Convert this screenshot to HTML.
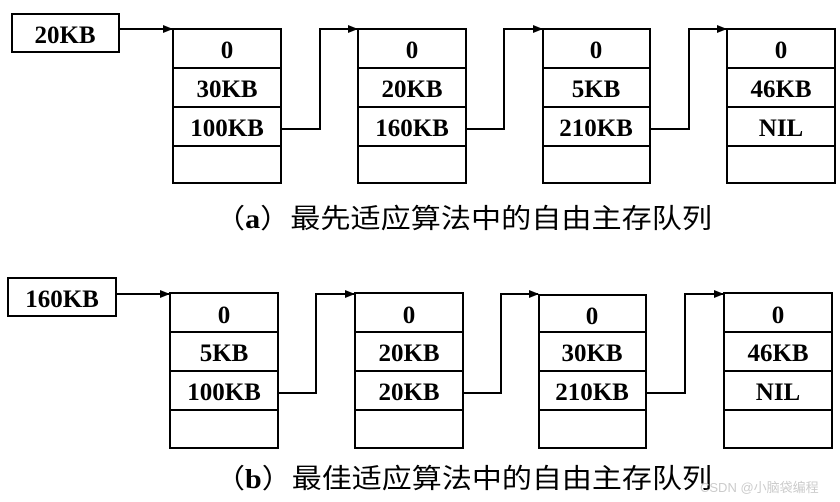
<!DOCTYPE html>
<html><head><meta charset="utf-8"><style>
html,body{margin:0;padding:0;background:#fff;width:840px;height:502px;overflow:hidden}
svg{display:block}
.l{font-family:"Liberation Serif",serif;font-weight:bold;font-size:25px;text-anchor:middle;fill:#000}
.c{font-family:"Liberation Serif","Noto Sans CJK SC",sans-serif;font-size:27px;fill:#000}
</style></head><body>
<svg width="840" height="502" viewBox="0 0 840 502" xmlns="http://www.w3.org/2000/svg">
<defs><marker id="a" markerWidth="10" markerHeight="8" refX="9" refY="4" orient="auto" markerUnits="userSpaceOnUse"><path d="M0,0 L10,4 L0,8 z" fill="#000"/></marker></defs>
<g stroke="#000" stroke-width="2" fill="none">
<rect x="12" y="14" width="107" height="38"/>
<path d="M119,29 H172" marker-end="url(#a)"/>
<rect x="173" y="29" width="108" height="154"/><path d="M173,68H281M173,107H281M173,146H281"/>
<rect x="358" y="29" width="108" height="154"/><path d="M358,68H466M358,107H466M358,146H466"/>
<rect x="543" y="29" width="107" height="154"/><path d="M543,68H650M543,107H650M543,146H650"/>
<rect x="727" y="29" width="108" height="154"/><path d="M727,68H835M727,107H835M727,146H835"/>
<path d="M281,129H320V29H357" marker-end="url(#a)"/>
<path d="M466,129H504V29H542" marker-end="url(#a)"/>
<path d="M650,129H689V29H726" marker-end="url(#a)"/>

<rect x="8" y="278" width="108" height="38"/>
<path d="M116,294H169" marker-end="url(#a)"/>
<rect x="170" y="293" width="108" height="155"/><path d="M170,332H278M170,371H278M170,410H278"/>
<rect x="355" y="293" width="108" height="155"/><path d="M355,332H463M355,371H463M355,410H463"/>
<rect x="539" y="295" width="107" height="153"/><path d="M539,332H646M539,371H646M539,410H646"/>
<rect x="724" y="293" width="108" height="155"/><path d="M724,332H832M724,371H832M724,410H832"/>
<path d="M278,393H316V294H354" marker-end="url(#a)"/>
<path d="M463,393H501V294H538" marker-end="url(#a)"/>
<path d="M646,393H685V294H723" marker-end="url(#a)"/>
</g>
<g class="l">
<text x="65" y="43">20KB</text>
<text x="227" y="58">0</text><text x="227" y="97">30KB</text><text x="227" y="136">100KB</text>
<text x="412" y="58">0</text><text x="412" y="97">20KB</text><text x="412" y="136">160KB</text>
<text x="596" y="58">0</text><text x="596" y="97">5KB</text><text x="596" y="136">210KB</text>
<text x="781" y="58">0</text><text x="781" y="97">46KB</text><text x="781" y="136">NIL</text>

<text x="62" y="307">160KB</text>
<text x="224" y="323">0</text><text x="224" y="361">5KB</text><text x="224" y="400">100KB</text>
<text x="409" y="323">0</text><text x="409" y="361">20KB</text><text x="409" y="400">20KB</text>
<text x="592" y="324">0</text><text x="592" y="361">30KB</text><text x="592" y="400">210KB</text>
<text x="778" y="323">0</text><text x="778" y="361">46KB</text><text x="778" y="400">NIL</text>
</g>
<text class="c" x="215" y="228" textLength="497" lengthAdjust="spacingAndGlyphs">（<tspan font-weight="bold">a</tspan>）最先适应算法中的自由主存队列</text>
<text class="c" x="215" y="488" textLength="497" lengthAdjust="spacingAndGlyphs">（<tspan font-weight="bold">b</tspan>）最佳适应算法中的自由主存队列</text>
<text x="700" y="492" font-family="Liberation Sans,Noto Sans CJK SC,sans-serif" font-size="13" fill="#ccc">CSDN @小脑袋编程</text>
</svg>
</body></html>
